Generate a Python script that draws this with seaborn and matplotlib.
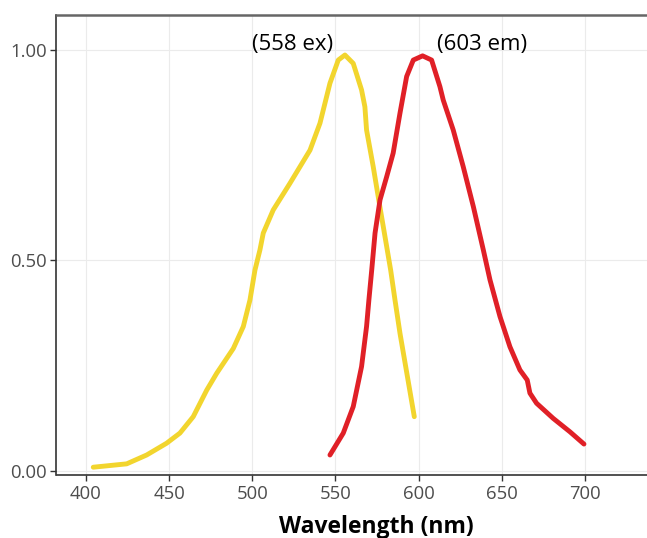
import matplotlib
matplotlib.use("Agg")
import matplotlib.pyplot as plt
import seaborn as sns
import pandas as pd

ex_nm = [404.4, 424.5, 436.5, 448.5, 456.5, 464.5, 472.6, 478.6, 488.6, 494.6, 498.6,
         501.6, 504.6, 506.6, 512.6, 522.6, 534.7, 540.7, 546.7, 551.7, 555.7, 560.7,
         565.7, 567.7, 568.7, 572.7, 576.7, 580.8, 583.2, 585.8, 588.8, 597.4]
ex_val = [0.009, 0.017, 0.038, 0.066, 0.09, 0.129, 0.192, 0.232, 0.291, 0.343, 0.406,
          0.477, 0.525, 0.565, 0.62, 0.683, 0.762, 0.826, 0.921, 0.976, 0.988, 0.968,
          0.905, 0.865, 0.81, 0.723, 0.628, 0.533, 0.477, 0.406, 0.327, 0.129]

em_nm = [546.7, 554.7, 560.7, 565.7, 568.7, 570.1, 571.8, 573.8, 576.8, 580.8, 584.7,
         588.8, 592.8, 596.8, 602.4, 607.8, 612.8, 614.8, 620.8, 626.8, 632.9, 638.9,
         642.9, 648.9, 654.9, 660.9, 665.3, 666.9, 670.9, 680.9, 691.0, 699.4]
em_val = [0.038, 0.09, 0.153, 0.248, 0.343, 0.406, 0.477, 0.565, 0.644, 0.699, 0.755,
          0.85, 0.937, 0.976, 0.986, 0.976, 0.913, 0.881, 0.81, 0.723, 0.628, 0.525,
          0.454, 0.367, 0.295, 0.24, 0.216, 0.185, 0.161, 0.125, 0.093, 0.064]

x_ticks = [400, 450, 500, 550, 600, 650, 700]
y_ticks = [0.0, 0.5, 1.0]
y_ticklabels = ["0.00", "0.50", "1.00"]
ann_ex = "(558 ex)"
ann_em = "(603 em)"

df = pd.concat([
    pd.DataFrame({"nm": ex_nm, "val": ex_val, "kind": "ex"}),
    pd.DataFrame({"nm": em_nm, "val": em_val, "kind": "em"}),
])

sns.set_theme(style="white")
plt.rcParams["font.family"] = ["Open Sans", "DejaVu Sans"]

fig = plt.figure(figsize=(6.47, 5.38), dpi=100)
ax = fig.add_axes([56.5 / 647, 63 / 538, 1 - 56.5 / 647, (475 - 15) / 538])

sns.lineplot(data=df, x="nm", y="val", hue="kind", palette={"ex": "#f2d52e", "em": "#e02027"},
             sort=False, estimator=None, linewidth=3.5, legend=False, ax=ax,
             solid_capstyle="round", solid_joinstyle="round")

ax.set_xlim(382.3, 737.3)
ax.set_ylim(-0.0095, 1.083)
ax.set_xticks(x_ticks)
ax.set_yticks(y_ticks)
ax.set_yticklabels(y_ticklabels)
ax.grid(True, color="#ebebeb", linewidth=0.8)
ax.set_axisbelow(True)

for s in ["left", "bottom"]:
    ax.spines[s].set_color("#333333")
    ax.spines[s].set_linewidth(1.2)
ax.spines["top"].set_color("#666666")
ax.spines["top"].set_linewidth(1.8)
ax.spines["right"].set_visible(False)

ax.tick_params(axis="both", which="major", length=4, width=1, color="#333333",
               labelcolor="#4d4d4d", labelsize=13.3, pad=3, bottom=True, left=True)

ax.set_xlabel("Wavelength (nm)", fontsize=16.5, fontweight="bold", color="black", labelpad=9)
ax.xaxis.label.set_x(0.541)
ax.set_ylabel("")

ax.text(548.5, 1.012, ann_ex, ha="right", va="center", fontsize=16, color="black")
ax.text(611, 1.012, ann_em, ha="left", va="center", fontsize=16, color="black")

fig.savefig("out.png", dpi=100)
